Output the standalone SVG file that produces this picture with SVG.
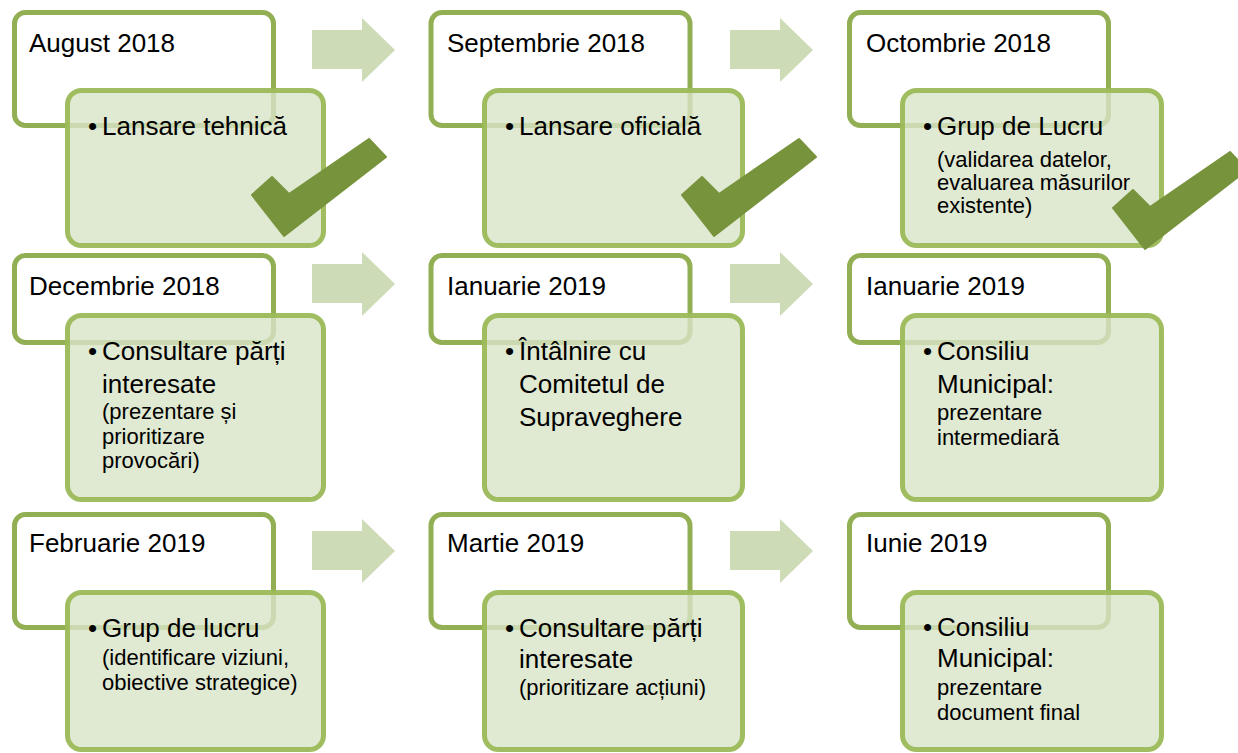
<svg xmlns="http://www.w3.org/2000/svg" width="1238" height="753" viewBox="0 0 1238 753">
<defs>
<style>
.outer{fill:#ffffff;stroke:#92af54;stroke-width:5}
.inner{fill:#d8e3c6;fill-opacity:0.8;stroke:#9bbb59;stroke-width:5;stroke-opacity:0.95}
.arrow{fill:#cddbb7}
.check{fill:#77933c;stroke:#77933c;stroke-width:2;stroke-linejoin:round}
text{font-family:"Liberation Sans",Arial,sans-serif;fill:#000000}
.big{font-size:26px}
.small{font-size:22px}
</style>
<polygon id="chk" points="252,195 272,177 289,194 369,139 386,157 284,236"/>
<polygon id="arr" points="312,30 362,30 362,18 395,50 362,82 362,69 312,69"/>
</defs>
<rect width="1238" height="753" fill="#ffffff"/>

<g id="connectors">
<use href="#arr" class="arrow"/>
<use href="#arr" class="arrow" transform="translate(418,0)"/>
<use href="#arr" class="arrow" transform="translate(0,234)"/>
<use href="#arr" class="arrow" transform="translate(418,234)"/>
<use href="#arr" class="arrow" transform="translate(0,501)"/>
<use href="#arr" class="arrow" transform="translate(418,501)"/>
</g>

<g id="node-aug2018">
<rect class="outer" x="14.5" y="12.5" width="259" height="113" rx="11"/>
<rect class="inner" x="67.5" y="90.5" width="256" height="155" rx="14"/>
<text class="big" x="29" y="52">August 2018</text>
<text class="big" x="88" y="135">•</text>
<text class="big" x="102" y="135">Lansare tehnică</text>
<use href="#chk" class="check"/>
</g>

<g id="node-sep2018">
<rect class="outer" x="431" y="12.5" width="259" height="113" rx="11"/>
<rect class="inner" x="484.5" y="90.5" width="258" height="155" rx="14"/>
<text class="big" x="447" y="52">Septembrie 2018</text>
<text class="big" x="505" y="135">•</text>
<text class="big" x="519" y="135">Lansare oficială</text>
<use href="#chk" class="check" transform="translate(430,0)"/>
</g>

<g id="node-oct2018">
<rect class="outer" x="849.5" y="12.5" width="259" height="113" rx="11"/>
<rect class="inner" x="902.5" y="90.5" width="259" height="155" rx="14"/>
<text class="big" x="866" y="52">Octombrie 2018</text>
<text class="big" x="923" y="135">•</text>
<text class="big" x="937" y="135">Grup de Lucru</text>
<text class="small" x="937" y="167">(validarea datelor,</text>
<text class="small" x="937" y="190">evaluarea măsurilor</text>
<text class="small" x="937" y="213">existente)</text>
<use href="#chk" class="check" transform="translate(861,13)"/>
</g>

<g id="node-dec2018">
<rect class="outer" x="14.5" y="255.5" width="259" height="87" rx="11"/>
<rect class="inner" x="67.5" y="315.5" width="256" height="184" rx="14"/>
<text class="big" x="29" y="295">Decembrie 2018</text>
<text class="big" x="88" y="360">•</text>
<text class="big" x="102" y="360">Consultare părți</text>
<text class="big" x="102" y="393">interesate</text>
<text class="small" x="102" y="419">(prezentare și</text>
<text class="small" x="102" y="444">prioritizare</text>
<text class="small" x="102" y="468">provocări)</text>
</g>

<g id="node-ian2019-a">
<rect class="outer" x="431" y="255.5" width="259" height="87" rx="11"/>
<rect class="inner" x="484.5" y="315.5" width="258" height="184" rx="14"/>
<text class="big" x="447" y="295">Ianuarie 2019</text>
<text class="big" x="505" y="360">•</text>
<text class="big" x="519" y="360">Întâlnire cu</text>
<text class="big" x="519" y="393">Comitetul de</text>
<text class="big" x="519" y="426">Supraveghere</text>
</g>

<g id="node-ian2019-b">
<rect class="outer" x="849.5" y="255.5" width="259" height="87" rx="11"/>
<rect class="inner" x="902.5" y="315.5" width="259" height="184" rx="14"/>
<text class="big" x="866" y="295">Ianuarie 2019</text>
<text class="big" x="923" y="360">•</text>
<text class="big" x="937" y="360">Consiliu</text>
<text class="big" x="937" y="393">Municipal:</text>
<text class="small" x="937" y="420">prezentare</text>
<text class="small" x="937" y="445">intermediară</text>
</g>

<g id="node-feb2019">
<rect class="outer" x="14.5" y="514.5" width="259" height="113" rx="11"/>
<rect class="inner" x="67.5" y="592.5" width="256" height="157" rx="14"/>
<text class="big" x="29" y="552">Februarie 2019</text>
<text class="big" x="88" y="637">•</text>
<text class="big" x="102" y="637">Grup de lucru</text>
<text class="small" x="102" y="665">(identificare viziuni,</text>
<text class="small" x="102" y="690">obiective strategice)</text>
</g>

<g id="node-mar2019">
<rect class="outer" x="431" y="514.5" width="259" height="113" rx="11"/>
<rect class="inner" x="484.5" y="592.5" width="258" height="157" rx="14"/>
<text class="big" x="447" y="552">Martie 2019</text>
<text class="big" x="505" y="637">•</text>
<text class="big" x="519" y="637">Consultare părți</text>
<text class="big" x="519" y="668">interesate</text>
<text class="small" x="519" y="695">(prioritizare acțiuni)</text>
</g>

<g id="node-iun2019">
<rect class="outer" x="849.5" y="514.5" width="259" height="113" rx="11"/>
<rect class="inner" x="902.5" y="592.5" width="259" height="157" rx="14"/>
<text class="big" x="866" y="552">Iunie 2019</text>
<text class="big" x="923" y="636">•</text>
<text class="big" x="937" y="636">Consiliu</text>
<text class="big" x="937" y="667">Municipal:</text>
<text class="small" x="937" y="695">prezentare</text>
<text class="small" x="937" y="720">document final</text>
</g>
</svg>
